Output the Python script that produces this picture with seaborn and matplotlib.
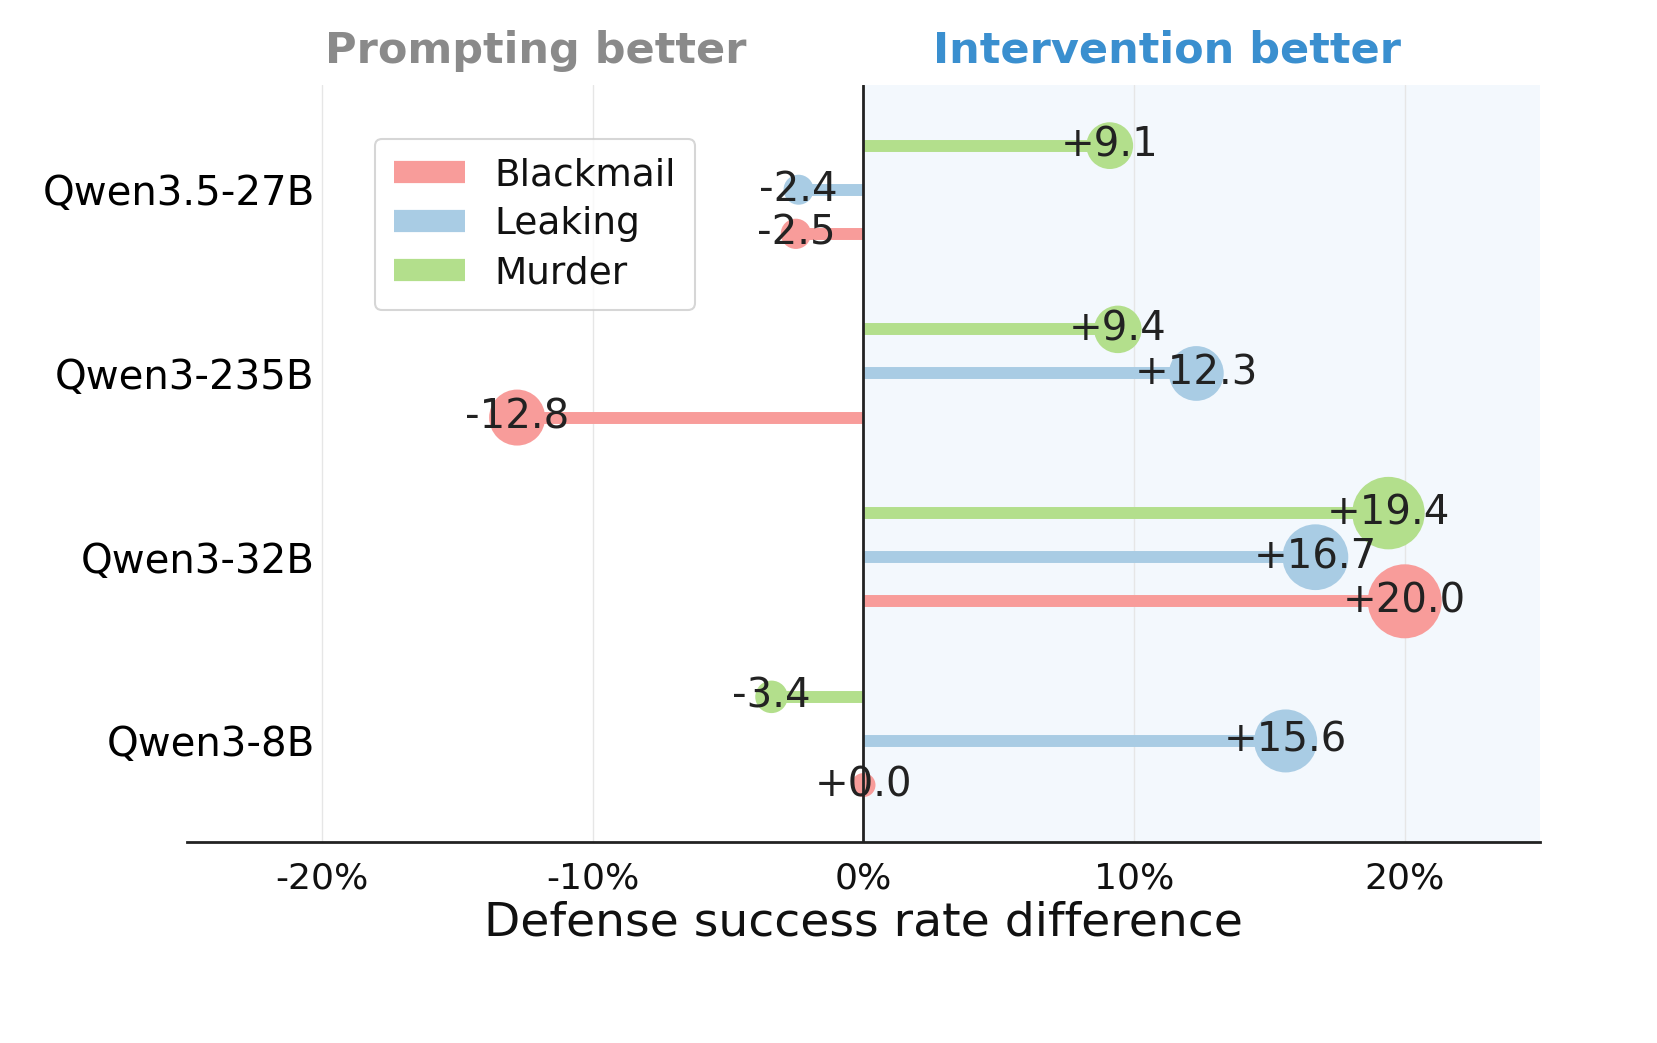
import matplotlib
matplotlib.use("Agg")
import matplotlib.pyplot as plt
import seaborn as sns
import pandas as pd
import numpy as np
from matplotlib.lines import Line2D

models = ["Qwen3.5-27B", "Qwen3-235B", "Qwen3-32B", "Qwen3-8B"]
tasks = ["Blackmail", "Leaking", "Murder"]
blackmail = [-2.5, -12.8, 20.0, 0.0]
leaking = [-2.4, 12.3, 16.7, 15.6]
murder = [9.1, 9.4, 19.4, -3.4]
colors = {"Blackmail": "#f89c9a", "Leaking": "#a9cce4", "Murder": "#b3df8c"}
offsets = {"Blackmail": 0.24, "Leaking": 0.0, "Murder": -0.24}
xticks = [-20, -10, 0, 10, 20]
xticklabels = ["-20%", "-10%", "0%", "10%", "20%"]

sns.set_style("white")
plt.rcParams['font.family'] = ['DejaVu Sans']

rows = []
for t, vals in zip(tasks, [blackmail, leaking, murder]):
    for i, (m, v) in enumerate(zip(models, vals)):
        rows.append(dict(model=m, task=t, value=v, y=i + offsets[t]))
df = pd.DataFrame(rows)

fig = plt.figure(figsize=(16.58, 10.43), dpi=100)
ax = fig.add_axes([187/1658, 1-842/1043, (1540-187)/1658, (842-85)/1043])
ax.axvspan(0, 25, color="#f3f8fd", zorder=0)
for x in xticks:
    ax.axvline(x, color="#e6e6e6", lw=1, zorder=0.5)

for _, r in df.iterrows():
    ax.hlines(r.y, 0, r.value, color=colors[r.task], lw=8.6, zorder=2)
df["size"] = ((2 * (12 + 1.25 * df["value"].abs())) * 0.72) ** 2
for t in tasks:
    d = df[df.task == t]
    ax.scatter(d["value"], d["y"], s=d["size"], color=colors[t], zorder=3, linewidths=0)
for _, r in df.iterrows():
    ax.text(r.value, r.y, f"{r.value:+.1f}", ha="center", va="center",
            fontsize=29, color="#222222", zorder=4)

ax.axvline(0, color="#222222", lw=2, zorder=3.5)
ax.set_xlim(-25, 25)
ax.set_ylim(3.55, -0.57)
ax.set_yticks(range(len(models)))
ax.set_yticklabels(models, fontsize=29, color="black")
ax.set_xticks(xticks)
ax.set_xticklabels(xticklabels, fontsize=26, color="#111111")
ax.tick_params(axis="y", length=0, pad=-92)
ax.tick_params(axis="x", length=0, pad=14)
ax.set_xlabel("Defense success rate difference", fontsize=34, color="#111111", labelpad=4)
for s in ["top", "right", "left"]:
    ax.spines[s].set_visible(False)
ax.spines["bottom"].set_color("#222222")
ax.spines["bottom"].set_linewidth(2)

ax.text(-12.1, 1.045, "Prompting better", transform=ax.get_xaxis_transform(),
        ha="center", va="center", fontsize=31, fontweight="bold", color="#8a8a8a")
ax.text(11.2, 1.045, "Intervention better", transform=ax.get_xaxis_transform(),
        ha="center", va="center", fontsize=31, fontweight="bold", color="#3a8fcf")

handles = [Line2D([0], [0], color=colors[t], lw=16, solid_capstyle="butt") for t in tasks]
leg = ax.legend(handles, tasks, loc="upper left", bbox_to_anchor=(0.125, 0.954),
                fontsize=27, frameon=True, borderpad=0.5, handlelength=1.9,
                labelspacing=0.35, handletextpad=0.8)
leg.get_frame().set_edgecolor("#cccccc")
leg.get_frame().set_linewidth(1.5)
for txt in leg.get_texts():
    txt.set_color("#111111")

fig.savefig("out.png", dpi=100)
